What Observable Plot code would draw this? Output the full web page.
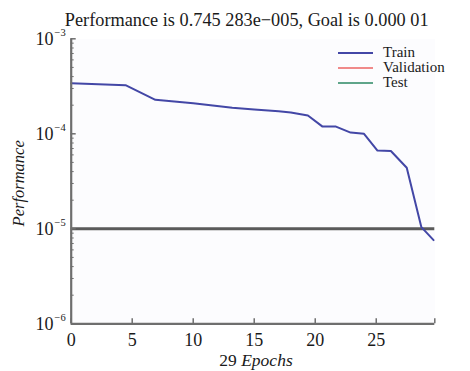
<!DOCTYPE html>
<html>
<head>
<meta charset="utf-8">
<script src="https://cdn.jsdelivr.net/npm/d3@7"></script>
<script src="https://cdn.jsdelivr.net/npm/@observablehq/plot@0.6"></script>
<style>
  body { margin: 0; background: #fff; }
  #wrap { position: relative; width: 470px; height: 371px; font-family: "Liberation Serif", "DejaVu Serif", serif; color: #1a1a1a; }
  #chart { position: absolute; left: 0; top: 0; }
  #chart svg, #chart svg text { font-family: "Liberation Serif", "DejaVu Serif", serif; }
  .title { position: absolute; left: 11.7px; top: 11px; width: 470px; text-align: center; font-size: 18.3px; line-height: 18.3px; white-space: nowrap; }
  .xlabel { position: absolute; left: 21px; top: 352.3px; width: 470px; text-align: center; font-size: 17.5px; line-height: 17.5px; white-space: nowrap; }
  .legend { position: absolute; left: 338px; top: 45px; font-size: 15px; }
  .legend .row { display: flex; align-items: center; height: 15.2px; line-height: 15.2px; }
  .legend .sw { width: 35px; height: 0; border-top: 2.5px solid; margin-right: 10px; }
</style>
</head>
<body>
<div id="wrap">
  <div id="chart"></div>
  <div class="title" id="title"></div>
  <div class="xlabel" id="xlabel"></div>
  <div class="legend" id="legend"></div>
</div>
<script>
// ---- data ----
const epochs = [0, 4.45, 6.9, 10, 13.2, 15, 17, 18, 19.4, 20.6, 21.7, 22.9, 24, 25.1, 26.2, 27.5, 28.7, 29.7];
const trainPerf = [3.41e-4, 3.25e-4, 2.28e-4, 2.10e-4, 1.88e-4, 1.80e-4, 1.73e-4, 1.68e-4, 1.56e-4, 1.19e-4, 1.19e-4, 1.03e-4, 1.0e-4, 6.67e-5, 6.6e-5, 4.39e-5, 1.04e-5, 7.6e-6];
const goal = 1e-5;
const xMax = 29.8;
const xTicks = [0, 5, 10, 15, 20, 25];
const yExponents = [-6, -5, -4, -3];
const legendNames = ["Train", "Validation", "Test"];
const legendColors = ["#4347a6", "#f08a8a", "#5fa58a"];
const titleText = "Performance is 0.745 283e\u2212005, Goal is 0.000 01";
const epochCount = "29";
const xLabelText = "Epochs";
const yLabelText = "Performance";

const data = epochs.map((e, i) => ({epoch: e, perf: trainPerf[i]}));
const minorTicks = [];
for (const ex of [-6, -5, -4]) for (let m = 2; m <= 9; m++) minorTicks.push(m * 10 ** ex);

const serif = '"Liberation Serif", "DejaVu Serif", serif';
const axisColor = "#6e6e6e";
const chart = Plot.plot({
  width: 470,
  height: 371,
  marginLeft: 70.7,
  marginRight: 35.7,
  marginTop: 38.3,
  marginBottom: 47.7,
  style: {fontFamily: serif, background: "transparent", color: "#1a1a1a"},
  x: {domain: [0, xMax]},
  y: {type: "log", domain: [1e-6, 1e-3]},
  marks: [
    Plot.frame({fill: "#fcfcfe", stroke: null}),
    // goal line
    Plot.ruleY([goal], {x1: 0, x2: xMax, stroke: "#5a5a5a", strokeWidth: 3}),
    // train curve
    Plot.line(data, {x: "epoch", y: "perf", stroke: legendColors[0], strokeWidth: 2, curve: "linear"}),
    // axis lines
    Plot.ruleX([0], {stroke: axisColor, strokeWidth: 2.2}),
    Plot.ruleY([1e-6], {stroke: axisColor, strokeWidth: 2.2}),
    // x ticks (inward)
    Plot.axisX({ticks: [...xTicks, xMax], tickSize: -5, tickFormat: () => "", stroke: axisColor, strokeWidth: 1.5, label: null}),
    // x tick labels
    Plot.axisX({ticks: xTicks, tickSize: 0, tickPadding: 9, fontSize: 18, fontFamily: serif, label: null, tickFormat: d => String(d)}),
    // y ticks (inward)
    Plot.axisY({ticks: yExponents.map(e => 10 ** e), tickSize: -5, tickFormat: () => "", stroke: axisColor, strokeWidth: 1.5, label: null}),
    Plot.axisY({ticks: minorTicks, tickSize: -3, tickFormat: () => "", stroke: axisColor, strokeWidth: 1, label: null}),
    // y tick labels: "10" with superscript exponent
    Plot.text(yExponents, {y: d => 10 ** d, frameAnchor: "left", text: () => "10", textAnchor: "end", dx: -17.7, fontSize: 18, fontFamily: serif, lineAnchor: "middle"}),
    Plot.text(yExponents, {y: d => 10 ** d, frameAnchor: "left", text: d => "\u2212" + (-d), textAnchor: "start", dx: -16.7, dy: -6, fontSize: 10.5, fontFamily: serif, lineAnchor: "middle"}),
    // y axis label
    Plot.text([yLabelText], {frameAnchor: "left", text: d => d, rotate: -90, dx: -52, dy: 2, textAnchor: "middle", fontSize: 16.5, fontStyle: "italic", fontFamily: serif, lineAnchor: "middle"})
  ]
});
document.getElementById("chart").appendChild(chart);

document.getElementById("title").textContent = titleText;
document.getElementById("xlabel").innerHTML = epochCount + " <i>" + xLabelText + "</i>";
const leg = document.getElementById("legend");
legendNames.forEach((n, i) => {
  const row = document.createElement("div");
  row.className = "row";
  row.innerHTML = `<span class="sw" style="border-color:${legendColors[i]}"></span><span>${n}</span>`;
  leg.appendChild(row);
});
</script>
</body>
</html>
